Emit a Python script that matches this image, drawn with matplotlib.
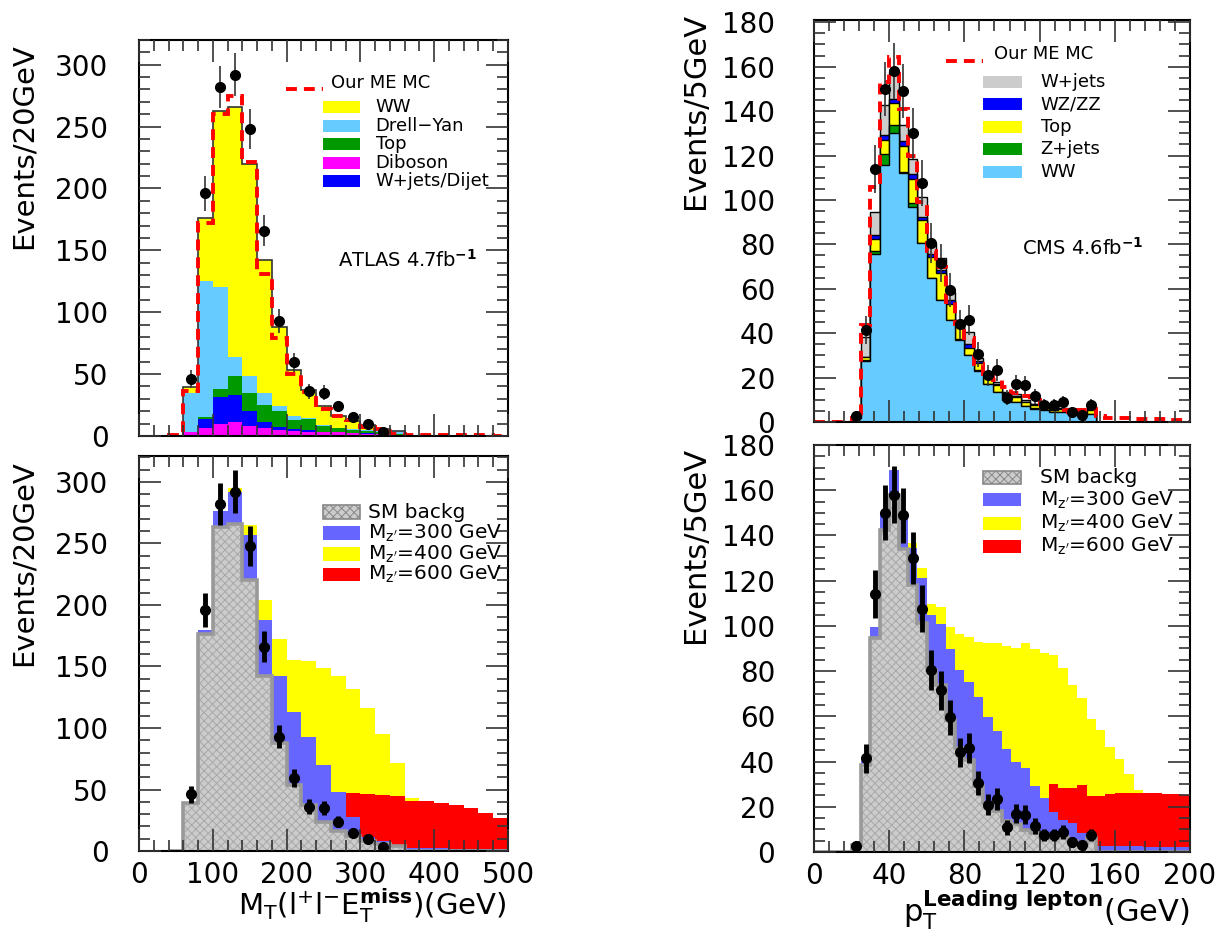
import numpy as np
import matplotlib
matplotlib.use('Agg')
import matplotlib.pyplot as plt
from matplotlib.patches import Rectangle
from matplotlib.lines import Line2D
from matplotlib.ticker import MultipleLocator

plt.rcParams['font.family'] = ['DejaVu Sans']
plt.rcParams['mathtext.fontset'] = 'dejavusans'
plt.rcParams['hatch.linewidth'] = 0.7

# M_T(l+l-MET), 20 GeV bins from 40 to 500 (ATLAS 4.7 fb-1)
mt_edges = np.arange(40, 501, 20)
ww_l = [0, 4.6, 51, 142.7, 202, 171.8, 107.3, 64, 37.4, 23, 15.5, 9.5, 6.8, 3.9, 2.1, 0.7, 0, 0, 0, 0, 0, 0, 0]
dy_l = [0, 31.1, 110, 82.3, 15.8, 13.5, 9.4, 4.0, 3.2, 0.8, 0.8, 0.5, 0.5, 0.4, 0.6, 1.8, 0, 0, 0, 0, 0, 0, 0]
top_l = [0, 0, 1.3, 6.8, 14.9, 14.8, 14.4, 13.1, 7.3, 8.7, 4.5, 3.1, 2.4, 2.2, 1.8, 1.0, 0, 0, 0, 0, 0, 0, 0]
wjet_l = [0, 0, 7.4, 21.6, 22.1, 12.2, 4.6, 1.9, 1.6, 1.4, 0.3, 0.3, 0.2, 0.2, 0.1, 0.1, 0, 0, 0, 0, 0, 0, 0]
dib_l = [0, 3.6, 6.3, 9.6, 11.2, 7.7, 6.3, 5.0, 4.2, 3.6, 2.9, 2.9, 2.4, 1.8, 1.2, 0.8, 0, 0, 0, 0, 0, 0, 0]
me_l = [0.5, 36.5, 172, 260, 275, 221, 130.5, 79.3, 50, 35.5, 21.7, 16.3, 12.8, 6.9, 5.9, 1.2,
        0.8, 0.6, 0.5, 0.5, 0.4, 0.4, 0.3]
zp300_l = [0, 40, 180, 276, 291.6, 257, 188, 142, 112.7, 93, 70, 47.8, 27.6, 11.4, 8.1, 4.6,
           2.7, 2.2, 2.2, 2, 2, 2, 2]
zp400_l = [0, 39.6, 178, 270, 294.6, 264.6, 204, 172.7, 155, 154.6, 148.6, 142.4, 132, 116, 95, 71.6,
           43, 36, 32, 28, 24, 20, 16]
zp600_l = [0, 39.5, 177.5, 265, 268, 221, 143, 90, 57, 40, 28, 22, 47.3, 46.5, 45.7, 45,
           41, 40.5, 39, 37.8, 35, 31, 26.8]
mt_x = [70, 90, 110, 130, 150, 170, 190, 210, 230, 250, 270, 290, 310, 330]
mt_y = [46, 196, 282, 292, 248, 166, 93, 59.5, 36, 35, 24, 15, 9.5, 3]
mt_err = [7, 14, 17, 17.5, 16, 12.5, 9.5, 7.5, 6, 6, 4.5, 3.5, 2.8, 1.7]

# leading lepton pT, 5 GeV bins from 0 to 200 (CMS 4.6 fb-1)
pt_edges = np.arange(0, 201, 5)
z10 = [0] * 10
ww_r = [0, 0, 0, 0, 2, 27.7, 75.7, 115.7, 130.2, 112.2, 96.6, 80.5, 64.7, 54.8, 45.8, 37, 30, 23, 17,
        13.5, 10, 9, 7, 6, 5.5, 4.5, 4.5, 3.5, 3, 3.5] + z10
zj_r = [0, 0, 0, 0, 0, 0.3, 1.4, 4.9, 3.4, 0.3, 1.8, 0.2, 0.2, 0.3, 0.3, 0.3, 0.3, 0.3, 0.2, 0.2,
        0.1, 0.1, 0.1, 0.1, 0.1, 0.1, 0.1, 0.1, 0.1, 0.1] + z10
top_r = [0, 0, 0, 0, 0.3, 1.2, 5.3, 6.6, 10.2, 11.7, 11.0, 10.2, 9.3, 12.1, 7.1, 6.4, 3.2, 3.5, 2.5, 3,
         2.4, 2.3, 1.8, 1.5, 1.3, 1, 1.2, 1, 0.6, 1.8] + z10
wz_r = [0, 0, 0, 0, 0.1, 0.3, 1.8, 1.9, 1.8, 2.3, 2.1, 1.5, 1.5, 1.3, 1.6, 0.8, 1.5, 0.8, 0.6, 0.5,
        0.4, 0.4, 0.3, 0.3, 0.2, 0.2, 0.2, 0.2, 0.1, 0.2] + z10
wj_r = [0, 0, 0, 0, 0.6, 9.0, 10.5, 13.5, 12.2, 7.4, 6.8, 8.7, 5.0, 5.5, 3.7, 1.5, 5.5, 1.4, 1.2, 0.8,
        0.6, 0.7, 0.6, 0.4, 0.4, 0.2, 0.5, 0.2, 0.2, 0.4] + z10
me_r = [0, 0, 0, 0, 2, 43.7, 106, 153, 164.5, 141, 120, 99, 77, 70, 54, 44, 38, 26, 21.5, 19,
        16, 13, 11.5, 10, 8.3, 7.6, 5.5, 4.5, 5.5, 6, 2.5, 2, 2, 1.8, 1.5, 1.5, 1.2, 1.2, 1, 1]
zp300_r = [0, 0, 0, 0, 3.2, 40.3, 99.3, 150, 168.8, 148, 134.4, 121, 104.6, 100.8, 89.6, 80.7, 75.4,
           68.7, 59.8, 53.3, 45.6, 39.6, 37.3, 29, 24, 17.9, 14.2, 12.7, 8.2, 8.2,
           2.5, 2.5, 2.5, 2.5, 2.5, 2.3, 2.3, 2.2, 2.2, 2.2]
zp400_r = [0, 0, 0, 0, 3.1, 39.5, 97, 146, 163, 140, 136.7, 125.8, 109.8, 108.3, 99.3, 96.4, 94.9,
           92.9, 92.6, 92.3, 91.1, 90.4, 92.3, 89.6, 88.1, 86.9, 81.4, 74, 68, 59,
           53.8, 46.3, 41, 34.4, 27.6, 24, 22, 20, 18, 16]
zp600_r = [0, 0, 0, 0, 3, 39, 96, 144, 160, 136, 120, 103, 84, 78, 63, 52, 47, 37, 31, 29,
           25, 25, 26, 26, 23, 29.9, 28.4, 28.4, 29.6, 24.6,
           24.8, 25.5, 25.9, 26, 26, 26, 26, 25.8, 25.5, 25.2]
pt_x = [22.5, 27.5, 32.5, 37.5, 42.5, 47.5, 52.5, 57.5, 62.5, 67.5, 72.5, 77.5, 82.5,
        87.5, 92.5, 97.5, 102.5, 107.5, 112.5, 117.5, 122.5, 127.5, 132.5, 137.5, 142.5, 147.5]
pt_y = [2.5, 41.5, 114, 150, 158, 149, 130, 107.5, 80.5, 71.5, 59.5, 44, 46,
        30.5, 21, 23.5, 11, 17, 16.5, 11.5, 7.5, 7.5, 8.8, 4.5, 3, 7.5]
pt_err = [1.6, 6.4, 10.7, 12.2, 12.6, 12.2, 11.4, 10.4, 9, 8.5, 7.7, 6.6, 6.8,
          5.5, 4.6, 4.8, 3.3, 4.1, 4.1, 3.4, 2.7, 2.7, 3, 2.1, 1.7, 2.7]

C_WW_L, C_DY, C_TOP_L, C_DIB, C_WJ_L = '#ffff00', '#66ccff', '#009900', '#ff00ff', '#0000ff'
C_300, C_400, C_600 = '#6666ff', '#ffff00', '#ff0000'
ME_STYLE = dict(color='#ff0000', lw=2.8, ls=(0, (2.8, 1.8)))


def style(ax, xmaj, xmin, ymaj, ymin, xlim, ylim, pad):
    ax.set_xlim(*xlim)
    ax.set_ylim(*ylim)
    ax.xaxis.set_major_locator(MultipleLocator(xmaj))
    ax.xaxis.set_minor_locator(MultipleLocator(xmin))
    ax.yaxis.set_major_locator(MultipleLocator(ymaj))
    ax.yaxis.set_minor_locator(MultipleLocator(ymin))
    ax.tick_params(which='both', direction='in', top=True, right=True, width=1.2,
                   color='#333333', labelsize=20)
    ax.tick_params(which='major', length=16)
    ax.tick_params(which='minor', length=8)
    ax.tick_params(axis='y', pad=pad)
    ax.tick_params(axis='x', pad=7)
    ax.set_axisbelow(False)
    for s in ax.spines.values():
        s.set_linewidth(1.5)


def legend_boxes(ax, x0, x1, xt, ys, h, labels, colors, fs, hatch_first=False):
    for i, (y, lab, c) in enumerate(zip(ys, labels, colors)):
        if hatch_first and i == 0:
            ax.add_patch(Rectangle((x0, y - h / 2), x1 - x0, h, transform=ax.transAxes,
                                   facecolor=c, edgecolor='#888888', hatch='xxxx', lw=1.2, zorder=7))
        else:
            ax.add_patch(Rectangle((x0, y - h / 2), x1 - x0, h, transform=ax.transAxes,
                                   facecolor=c, edgecolor='none', zorder=7))
        ax.text(xt, y, lab, transform=ax.transAxes, ha='left', va='center', fontsize=fs, zorder=7)


def me_legend(ax, x0, x1, yl, xt, yt, fs):
    ax.add_line(Line2D([x0, x1], [yl, yl], transform=ax.transAxes, zorder=7, **ME_STYLE))
    ax.text(xt, yt, 'Our ME MC', transform=ax.transAxes, ha='left', va='center', fontsize=fs, zorder=7)


def sm_backg(ax, edges, sm):
    ax.stairs(sm, edges, fill=True, facecolor='#cccccc', edgecolor='none', zorder=1.3)
    ax.stairs(sm, edges, fill=True, facecolor='none', edgecolor='#a8a8a8', hatch='xxxx', lw=0, zorder=1.35)
    ax.stairs(sm, edges, color='#999999', lw=2.6, zorder=1.4)


fig = plt.figure(figsize=(12.25, 9.41), dpi=100)
ax1 = fig.add_axes([0.1135, 0.5367, 0.3012, 0.4208])
ax2 = fig.add_axes([0.1135, 0.0956, 0.3012, 0.4198])
ax3 = fig.add_axes([0.6645, 0.5515, 0.3069, 0.4272])
ax4 = fig.add_axes([0.6645, 0.0946, 0.3069, 0.4325])

# ---- top left: ATLAS stack
s1 = np.array(dib_l)
s2 = s1 + np.array(wjet_l)
s3 = s2 + np.array(top_l)
s4 = s3 + np.array(dy_l)
s5 = s4 + np.array(ww_l)
for vals, col in [(s5, C_WW_L), (s4, C_DY), (s3, C_TOP_L), (s2, C_WJ_L), (s1, C_DIB)]:
    ax1.stairs(vals, mt_edges, fill=True, color=col, zorder=1.1)
ax1.stairs(s5, mt_edges, color='#333333', lw=1.2, zorder=1.2)
ax1.stairs(me_l, mt_edges, zorder=2, **ME_STYLE)
ax1.errorbar(mt_x, mt_y, yerr=mt_err, fmt='o', color='black', ms=7, ecolor='#333333',
             elinewidth=1.2, capsize=0, zorder=6)
style(ax1, 100, 20, 50, 10, (0, 500), (0, 320), 22)
ax1.tick_params(labelbottom=False)
me_legend(ax1, 0.398, 0.499, 0.876, 0.519, 0.891, 13)
legend_boxes(ax1, 0.498, 0.600, 0.641, [0.831, 0.783, 0.737, 0.689, 0.644], 0.031,
             ['WW', 'Drell\u2212Yan', 'Top', 'Diboson', 'W+jets/Dijet'],
             [C_WW_L, C_DY, C_TOP_L, C_DIB, C_WJ_L], 13)
ax1.text(0.539, 0.444, r'ATLAS 4.7fb$^{\mathbf{-1}}$', transform=ax1.transAxes,
         ha='left', va='center', fontsize=14)
ax1.set_ylabel('Events/20GeV', fontsize=21, loc='top')
ax1.yaxis.set_label_coords(-0.276, 0.992)

# ---- bottom left: SM + Z' signals
sm_l = s5
ax2.stairs(zp400_l, mt_edges, fill=True, color=C_400, zorder=1.1)
ax2.stairs(zp600_l, mt_edges, fill=True, color=C_600, zorder=1.15)
ax2.stairs(zp300_l, mt_edges, fill=True, color=C_300, zorder=1.2)
sm_backg(ax2, mt_edges, sm_l)
ax2.errorbar(mt_x, mt_y, yerr=mt_err, fmt='o', color='black', ms=7,
             elinewidth=3.5, capsize=0, zorder=6)
style(ax2, 100, 20, 50, 10, (0, 500), (0, 321), 22)
legend_boxes(ax2, 0.498, 0.599, 0.621, [0.858, 0.805, 0.752, 0.700], 0.034,
             ['SM backg', r"$\mathrm{M_{z'}}$=300 GeV", r"$\mathrm{M_{z'}}$=400 GeV",
              r"$\mathrm{M_{z'}}$=600 GeV"],
             ['#cccccc', C_300, C_400, C_600], 14.5, hatch_first=True)
ax2.set_ylabel('Events/20GeV', fontsize=21, loc='top')
ax2.yaxis.set_label_coords(-0.276, 0.99)
ax2.set_xlabel(r'$\mathrm{M_{T}(l^{+}l^{-}E_{T}^{\mathbf{miss}})(GeV)}$', fontsize=21, loc='right')
ax2.xaxis.set_label_coords(0.995, -0.09)

# ---- top right: CMS stack
r1 = np.array(ww_r)
r2 = r1 + np.array(zj_r)
r3 = r2 + np.array(top_r)
r4 = r3 + np.array(wz_r)
r5 = r4 + np.array(wj_r)
for vals, col in [(r5, '#cccccc'), (r4, '#0000ff'), (r3, '#ffff00'), (r2, '#009900'), (r1, '#66ccff')]:
    ax3.stairs(vals, pt_edges, fill=True, facecolor=col, edgecolor='black', lw=1.0, zorder=1.1)
ax3.stairs(me_r, pt_edges, zorder=2, **ME_STYLE)
ax3.errorbar(pt_x, pt_y, yerr=pt_err, fmt='o', color='black', ms=7, ecolor='#333333',
             elinewidth=1.2, capsize=0, zorder=6)
style(ax3, 40, 8, 20, 5, (0, 200), (0, 181), 28)
ax3.tick_params(labelbottom=False)
me_legend(ax3, 0.351, 0.449, 0.899, 0.479, 0.915, 13)
legend_boxes(ax3, 0.449, 0.553, 0.603, [0.846, 0.791, 0.734, 0.679, 0.623], 0.030,
             ['W+jets', 'WZ/ZZ', 'Top', 'Z+jets', 'WW'],
             ['#cccccc', '#0000ff', '#ffff00', '#009900', '#66ccff'], 13)
ax3.text(0.552, 0.433, r'CMS 4.6fb$^{\mathbf{-1}}$', transform=ax3.transAxes,
         ha='left', va='center', fontsize=14)
ax3.set_ylabel('Events/5GeV', fontsize=22, loc='top')
ax3.yaxis.set_label_coords(-0.277, 1.017)

# ---- bottom right: SM + Z' signals
ax4.stairs(zp400_r, pt_edges, fill=True, color=C_400, zorder=1.1)
ax4.stairs(zp600_r, pt_edges, fill=True, color=C_600, zorder=1.15)
ax4.stairs(zp300_r, pt_edges, fill=True, color=C_300, zorder=1.2)
sm_backg(ax4, pt_edges, r5)
ax4.errorbar(pt_x, pt_y, yerr=pt_err, fmt='o', color='black', ms=7,
             elinewidth=3.5, capsize=0, zorder=6)
style(ax4, 40, 8, 20, 5, (0, 200), (0, 180), 28)
legend_boxes(ax4, 0.449, 0.551, 0.600, [0.919, 0.865, 0.807, 0.751], 0.032,
             ['SM backg', r"$\mathrm{M_{z'}}$=300 GeV", r"$\mathrm{M_{z'}}$=400 GeV",
              r"$\mathrm{M_{z'}}$=600 GeV"],
             ['#cccccc', C_300, C_400, C_600], 14.5, hatch_first=True)
ax4.set_ylabel('Events/5GeV', fontsize=22, loc='top')
ax4.yaxis.set_label_coords(-0.277, 0.995)
ax4.set_xlabel(r'$\mathrm{p_{T}^{\mathbf{Leading\ lepton}}}$(GeV)', fontsize=22, loc='right')
ax4.xaxis.set_label_coords(1.0, -0.09)

fig.savefig('out.png', dpi=100)
